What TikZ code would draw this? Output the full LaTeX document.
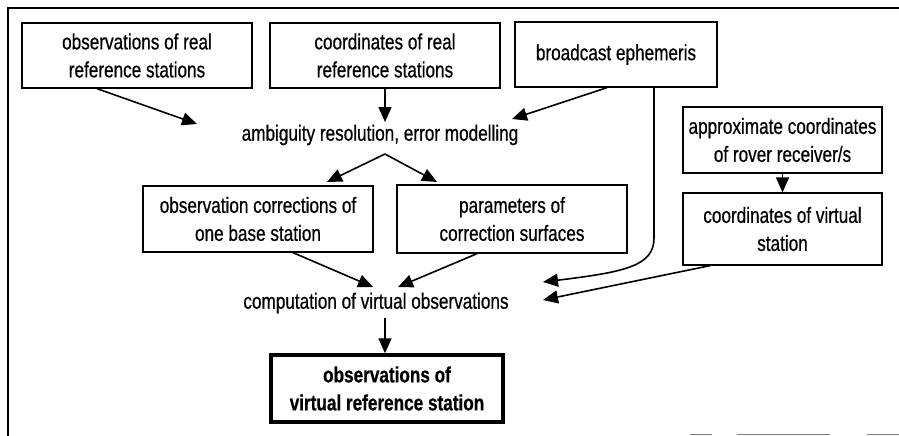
\documentclass[tikz,border=0pt]{standalone}
\usepackage{fontspec}
\setmainfont[FakeStretch=0.78,FakeBold=0.6]{Liberation Sans}
\usetikzlibrary{arrows.meta}
\begin{document}
\begin{tikzpicture}[x=1pt,y=-1pt,
  box/.style={draw,line width=1.3pt,align=center,inner sep=0pt,
    font=\fontsize{22}{28}\selectfont},
  lbl/.style={align=center,inner sep=0pt,font=\fontsize{22}{28}\selectfont},
  arr/.style={line width=1.6pt,-{Triangle[length=15pt,width=13pt]}},
  frame/.style={line width=1.6pt}]
\useasboundingbox (0,0) rectangle (899,436);
% outer frame (open at right and bottom)
\coordinate (fbl) at (8,436);
\coordinate (ftl) at (8,8);
\coordinate (ftr) at (899,8);
\draw[frame] (fbl) -- (ftl) -- (ftr);
% faint fragments at bottom right
\coordinate (s1a) at (690,434); \coordinate (s1b) at (712,434);
\coordinate (s2a) at (737,434); \coordinate (s2b) at (830,434);
\coordinate (s3a) at (867,434); \coordinate (s3b) at (899,434);
\draw[gray,line width=1pt] (s1a) -- (s1b) (s2a) -- (s2b) (s3a) -- (s3b);

\node[box,minimum width=230,minimum height=65] (b1) at (137,55.5)
  {observations of real\\reference stations};
\node[box,minimum width=230,minimum height=65] (b2) at (385,55.5)
  {coordinates of real\\reference stations};
\node[box,minimum width=202,minimum height=65] (b3) at (616,54.5)
  {broadcast ephemeris};
\node[box,minimum width=199,minimum height=66] (b4) at (782.5,140)
  {approximate coordinates\\of rover receiver/s};
\node[box,minimum width=199,minimum height=72] (b5) at (782.5,229)
  {coordinates of virtual\\station};
\node[box,minimum width=230,minimum height=66] (b6) at (258,219)
  {observation corrections of\\one base station};
\node[box,minimum width=230,minimum height=68] (b7) at (512,219)
  {parameters of\\correction surfaces};
\node[box,line width=3.5pt,minimum width=232,minimum height=67,
  font=\fontsize{22}{28}\selectfont\bfseries] (b8) at (387,388.5)
  {observations of\\virtual reference station};

\node[lbl] (amb) at (380,135) {ambiguity resolution, error modelling};
\node[lbl] (comp) at (376,303) {computation of virtual observations};

% arrow end points
\coordinate (a1) at (197,124);
\coordinate (a2) at (385,122);
\coordinate (a3) at (512,119);
\coordinate (m0) at (385,154);
\coordinate (m1) at (327,182);
\coordinate (m2) at (437,182);
\coordinate (c1) at (373,287);
\coordinate (c2) at (398,287);
\coordinate (c3) at (543,282);
\coordinate (c4) at (543,300);
\coordinate (e0) at (654,87);
\coordinate (e1) at (654,238);
\coordinate (o0) at (385,318);

\draw[arr] (b1.south -| 97,0) -- (a1);
\draw[arr] (b2.south) -- (a2);
\draw[arr] (b3.south -| 607,0) -- (a3);
\draw[arr] (m0) -- (m1);
\draw[arr] (m0) -- (m2);
\draw[arr] (b6.south -| 293,0) -- (c1);
\draw[arr] (b7.south -| 477,0) -- (c2);
\draw[arr] (e0) -- (e1) .. controls (654,266) and (625,272) .. (c3);
\draw[arr] (b5.south -| 710,0) -- (c4);
\draw[arr] (b4.south) -- (b5.north);
\draw[arr] (o0) -- (o0 |- b8.north);
\end{tikzpicture}
\end{document}
